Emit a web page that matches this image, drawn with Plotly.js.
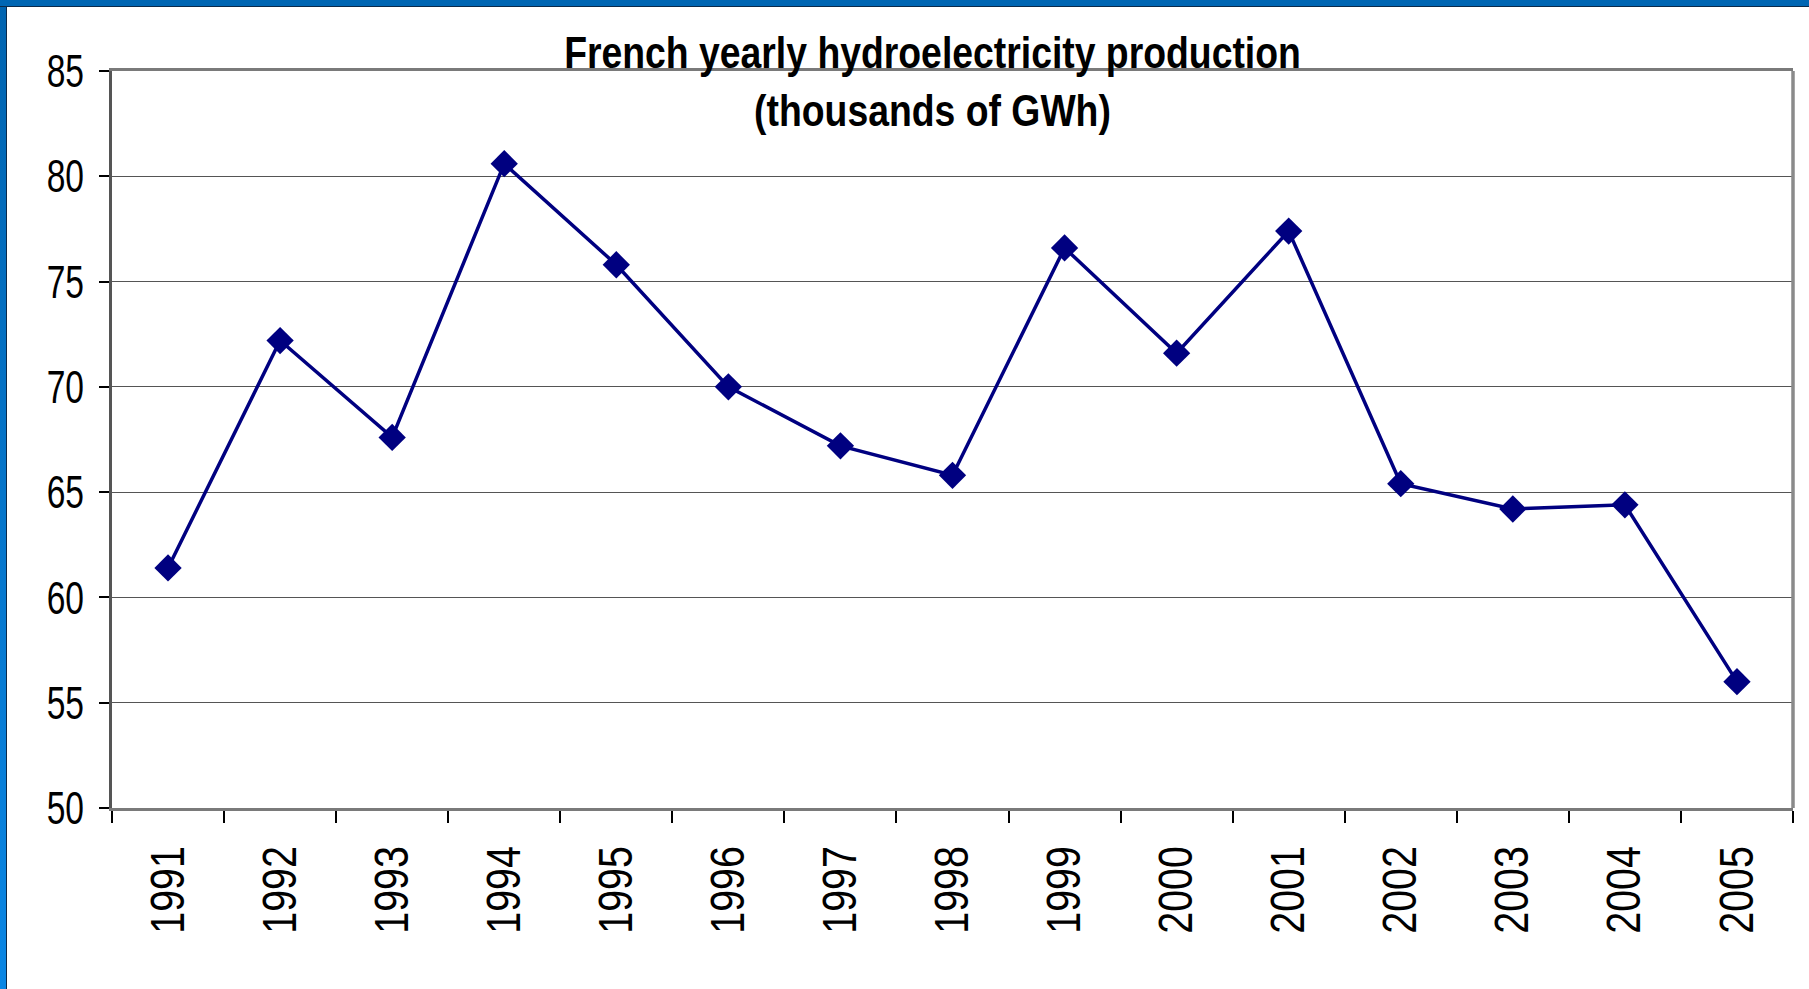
<!DOCTYPE html>
<html>
<head>
<meta charset="utf-8">
<script src="https://cdn.plot.ly/plotly-3.0.1.min.js"></script>
<style>
  html, body { margin: 0; padding: 0; background: #ffffff; overflow: hidden; }
  #chart { position: absolute; left: 0; top: 0; width: 1809px; height: 989px; }
  #topbar { position: absolute; left: 0; top: 0; width: 1809px; height: 6px; background: #0066b3; border-bottom: 1px solid #0b2a4a; }
  #leftbar { position: absolute; left: 0; top: 0; width: 6px; height: 989px; background: linear-gradient(#0064b0, #0a86e4); border-right: 1px solid #0b2a4a; }
</style>
</head>
<body>
<div id="chart"></div>
<div id="leftbar"></div>
<div id="topbar"></div>
<script>
const years = ["1991","1992","1993","1994","1995","1996","1997","1998","1999","2000","2001","2002","2003","2004","2005"];
const production = [61.4, 72.2, 67.6, 80.6, 75.8, 70.0, 67.2, 65.8, 76.6, 71.6, 77.4, 65.4, 64.2, 64.4, 56.0];
const yTicks = [50, 55, 60, 65, 70, 75, 80, 85];
const titleText = "French yearly hydroelectricity production<br>(thousands of GWh)";

const FONT = "'Liberation Sans', Arial, sans-serif";

const trace = {
  x: years,
  y: production,
  type: "scatter",
  mode: "lines+markers",
  line: { color: "#000080", width: 3.5 },
  marker: { symbol: "diamond", size: 21, color: "#000080" },
  hoverinfo: "x+y",
  showlegend: false
};

const layout = {
  width: 1809,
  height: 989,
  paper_bgcolor: "#ffffff",
  plot_bgcolor: "#ffffff",
  margin: { l: 112, r: 16, t: 71, b: 181, pad: 0 },
  font: { family: FONT, color: "#000000" },
  title: {
    text: titleText,
    font: { family: FONT, size: 45, color: "#000000", weight: "bold" },
    xref: "container", yref: "container",
    x: 932.5 / 1809, xanchor: "center",
    y: 1 - 68 / 989, yanchor: "top"
  },
  xaxis: {
    type: "category",
    range: [-0.5, 14.5],
    tickvals: years,
    ticktext: years,
    tickangle: -90,
    tickfont: { family: FONT, size: 48, color: "#000000" },
    ticks: "outside",
    tickson: "boundaries",
    ticklen: 12,
    tickwidth: 1.5,
    tickcolor: "#000000",
    ticklabelstandoff: 16,
    showline: true,
    linecolor: "#7a7a7a",
    linewidth: 3,
    mirror: true,
    showgrid: false,
    zeroline: false,
    fixedrange: true
  },
  yaxis: {
    range: [50, 85],
    tickvals: yTicks,
    ticktext: yTicks.map(String),
    tickfont: { family: FONT, size: 46, color: "#000000" },
    ticks: "outside",
    ticklen: 10,
    tickwidth: 1.5,
    tickcolor: "#000000",
    ticklabelstandoff: 6,
    showline: true,
    linecolor: "#555555",
    linewidth: 2.5,
    showgrid: true,
    gridcolor: "#555555",
    gridwidth: 1.2,
    zeroline: false,
    fixedrange: true
  },
  shapes: [
    { type: "line", xref: "paper", yref: "paper", x0: 1, x1: 1, y0: 0, y1: 1,
      line: { color: "#8a8a8a", width: 3.5 } }
  ]
};

// Narrow the text horizontally (the reference uses a condensed face) around each text anchor.
function squeeze(el, s) {
  const x = parseFloat(el.getAttribute("x")) || 0;
  const y = parseFloat(el.getAttribute("y")) || 0;
  const t = el.getAttribute("transform") || "";
  el.setAttribute("transform", t + " translate(" + x + "," + y + ") scale(" + s + ",1) translate(" + (-x) + "," + (-y) + ")");
}

Plotly.newPlot("chart", [trace], layout, { displayModeBar: false, responsive: false }).then(function (gd) {
  gd.querySelectorAll("text.gtitle").forEach(function (el) { squeeze(el, 0.83); });
  gd.querySelectorAll(".xtick text").forEach(function (el) { squeeze(el, 0.82); });
  gd.querySelectorAll(".ytick text").forEach(function (el) { squeeze(el, 0.73); });
});
</script>
</body>
</html>
